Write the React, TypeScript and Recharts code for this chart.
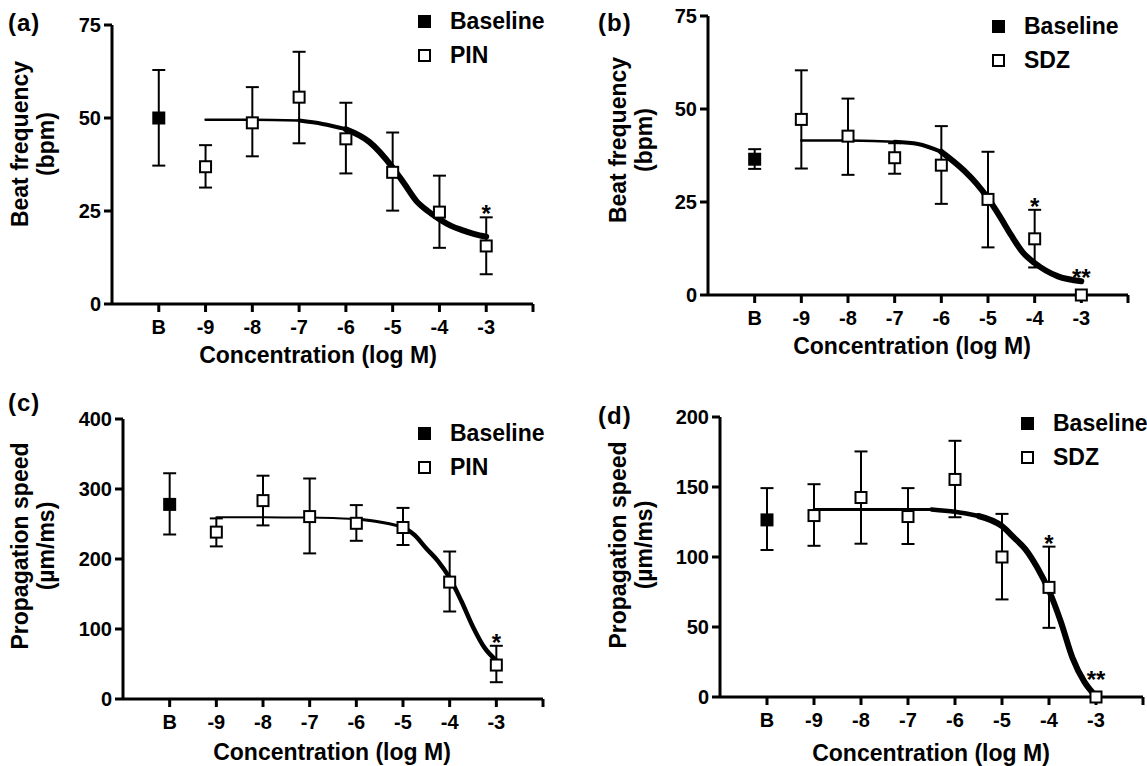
import {
  ComposedChart,
  Scatter,
  Line,
  XAxis,
  YAxis,
  ErrorBar,
  Legend,
  Label,
} from 'recharts';

// x axis is log M; the baseline sits in the "B" slot left of -9
const logConc = [-9, -8, -7, -6, -5, -4, -3];
const baselineSlot = -10;
const xTicks = [-10, -9, -8, -7, -6, -5, -4, -3, -2];
const xTickLabels = ['B', '-9', '-8', '-7', '-6', '-5', '-4', '-3', ''];

// (a) beat frequency, PIN  — baseline is [mean, low, high]
const beatBaselinePin = [50, 37.2, 62.9];
const beatPinMean = [36.9, 48.7, 55.6, 44.4, 35.4, 24.7, 15.6];
const beatPinLow = [31.3, 39.7, 43.2, 35.1, 25.1, 15.1, 8.0];
const beatPinHigh = [42.7, 58.3, 67.8, 54.1, 46.1, 34.5, 23.3];
const beatPinStars = ['', '', '', '', '', '', '*'];
const beatPinFitX = [-9, -8, -7, -6.5, -6, -5.5, -5, -4.75, -4.5, -4.25, -4, -3.75, -3.5, -3.25, -3];
const beatPinFitY = [49.5, 49.5, 49.3, 48.4, 47.0, 43.6, 36.7, 32.3, 27.8, 25.0, 22.8, 21.0, 19.8, 18.8, 18.1];

// (b) beat frequency, SDZ
const beatBaselineSdz = [36.5, 33.9, 39.2];
const beatSdzMean = [47.2, 42.7, 36.9, 34.9, 25.7, 15.1, 0];
const beatSdzLow = [34.0, 32.3, 32.6, 24.5, 12.8, 7.4, 0];
const beatSdzHigh = [60.4, 52.8, 40.8, 45.4, 38.5, 22.9, 0];
const beatSdzStars = ['', '', '', '', '', '*', '**'];
const beatSdzFitX = [-9, -8, -7, -6.5, -6, -5.5, -5.25, -5, -4.75, -4.5, -4.25, -4, -3.5, -3];
const beatSdzFitY = [41.5, 41.5, 41.2, 40.6, 38.5, 33.3, 30.0, 26.0, 21.2, 16.0, 11.4, 8.6, 5.0, 3.7];

// (c) propagation speed, PIN
const speedBaselinePin = [278, 235, 322.5];
const speedPinMean = [238.4, 283.4, 260.6, 251, 245, 167, 48.5];
const speedPinLow = [218, 248, 208, 226, 220, 125, 24];
const speedPinHigh = [258, 319, 315, 277, 273, 210.7, 76];
const speedPinStars = ['', '', '', '', '', '', '*'];
const speedPinFitX = [-9, -8, -7, -6.5, -6, -5.5, -5, -4.75, -4.5, -4.25, -4, -3.75, -3.5, -3.25, -3];
const speedPinFitY = [259.5, 259.5, 259.3, 258.5, 257, 253, 246, 234, 215, 197, 173, 140, 103, 73, 55];

// (d) propagation speed, SDZ
const speedBaselineSdz = [126.5, 105, 149.2];
const speedSdzMean = [129.6, 142.5, 128.9, 155.4, 100, 78.3, 0];
const speedSdzLow = [108, 109.5, 109.3, 128.4, 69.7, 49.4, 0];
const speedSdzHigh = [152, 175.4, 149.2, 183, 130.8, 107.4, 0];
const speedSdzStars = ['', '', '', '', '', '*', '**'];
const speedSdzFitX = [-9, -8, -7, -6.5, -6, -5.5, -5, -4.75, -4.5, -4.25, -4, -3.75, -3.5, -3.25, -3];
const speedSdzFitY = [134, 134, 134, 134, 132.3, 129.3, 122, 114, 105.5, 92.5, 76, 54, 28, 11, 0.5];

const FONT = '"Liberation Sans", Arial, Helvetica, sans-serif';
const TICK_FS = 20;
const TITLE_FS = 23;
const Y_AXIS_W = 60;
const X_AXIS_H = 40;

const panels = [
  {
    letter: '(a)', letterPos: { x: 8, y: 11 },
    box: { x: 0, y: 0, w: 573, h: 383 },
    plot: { l: 112, t: 25, r: 533, b: 304 },
    yMax: 75, yTicks: [0, 25, 50, 75],
    yTitle: ['Beat frequency', '(bpm)'], yTitlePos: { x: 28, y: 144 },
    xTitlePos: { x: 318, y: 363 },
    legendPos: { x: 418, y: 4 },
    drug: 'PIN',
    base: beatBaselinePin, mean: beatPinMean, low: beatPinLow, high: beatPinHigh, stars: beatPinStars,
    fitX: beatPinFitX, fitY: beatPinFitY,
    // curve drawn thin on the plateau, heavier where it falls
    segBreaks: [-7, -6], segWidths: [2.5, 4, 6],
  },
  {
    letter: '(b)', letterPos: { x: 598, y: 11 },
    box: { x: 573, y: 0, w: 574, h: 383 },
    plot: { l: 708, t: 16, r: 1128, b: 295 },
    yMax: 75, yTicks: [0, 25, 50, 75],
    yTitle: ['Beat frequency', '(bpm)'], yTitlePos: { x: 626, y: 140 },
    xTitlePos: { x: 912, y: 354 },
    legendPos: { x: 992, y: 9 },
    drug: 'SDZ',
    base: beatBaselineSdz, mean: beatSdzMean, low: beatSdzLow, high: beatSdzHigh, stars: beatSdzStars,
    fitX: beatSdzFitX, fitY: beatSdzFitY,
    segBreaks: [-7, -6], segWidths: [2.5, 4, 6],
  },
  {
    letter: '(c)', letterPos: { x: 8, y: 391 },
    box: { x: 0, y: 383, w: 573, h: 383 },
    plot: { l: 123, t: 419, r: 543, b: 699 },
    yMax: 400, yTicks: [0, 100, 200, 300, 400],
    yTitle: ['Propagation speed', '(µm/ms)'], yTitlePos: { x: 28, y: 546 },
    xTitlePos: { x: 332, y: 760 },
    legendPos: { x: 418, y: 416 },
    drug: 'PIN',
    base: speedBaselinePin, mean: speedPinMean, low: speedPinLow, high: speedPinHigh, stars: speedPinStars,
    fitX: speedPinFitX, fitY: speedPinFitY,
    segBreaks: [-6, -5], segWidths: [2, 3, 4.5],
  },
  {
    letter: '(d)', letterPos: { x: 598, y: 404 },
    box: { x: 573, y: 383, w: 574, h: 383 },
    plot: { l: 720, t: 417, r: 1143, b: 697 },
    yMax: 200, yTicks: [0, 50, 100, 150, 200],
    yTitle: ['Propagation speed', '(µm/ms)'], yTitlePos: { x: 626, y: 545 },
    xTitlePos: { x: 931, y: 761 },
    legendPos: { x: 1021, y: 406 },
    drug: 'SDZ',
    base: speedBaselineSdz, mean: speedSdzMean, low: speedSdzLow, high: speedSdzHigh, stars: speedSdzStars,
    fitX: speedSdzFitX, fitY: speedSdzFitY,
    segBreaks: [-6.5, -5.5], segWidths: [3, 4.5, 6],
  },
];

const FilledSquare = (props: any) => {
  const { cx, cy } = props;
  if (cx == null || cy == null) return null;
  return <rect x={cx - 6.5} y={cy - 6.5} width={13} height={13} fill="#000" />;
};

const OpenSquare = (props: any) => {
  const { cx, cy } = props;
  if (cx == null || cy == null) return null;
  return <rect x={cx - 5.5} y={cy - 5.5} width={11} height={11} fill="#fff" stroke="#000" strokeWidth={2} />;
};

const StarMark = (props: any) => {
  const { cx, cy, payload } = props;
  if (cx == null || cy == null) return null;
  return (
    <text x={cx} y={payload.flat ? cy - 9 : cy + 5} textAnchor="middle" fontSize={24} fontWeight="bold" fontFamily={FONT} fill="#000">
      {payload.star}
    </text>
  );
};

function LegendBox({ drug }: { drug: string }) {
  const row = (label: string, filled: boolean) => (
    <div style={{ display: 'flex', alignItems: 'center', height: 34 }}>
      <div
        style={{
          width: filled ? 13 : 9,
          height: filled ? 13 : 9,
          background: filled ? '#000' : '#fff',
          border: filled ? 'none' : '2px solid #000',
        }}
      />
      <span style={{ marginLeft: 19, fontSize: TITLE_FS, fontWeight: 'bold', fontFamily: FONT, lineHeight: 1 }}>
        {label}
      </span>
    </div>
  );
  return (
    <div>
      {row('Baseline', true)}
      {row(drug, false)}
    </div>
  );
}

function Panel({ p }: { p: (typeof panels)[number] }) {
  const { box, plot } = p;
  const margin = {
    left: plot.l - box.x - Y_AXIS_W,
    top: plot.t - box.y,
    right: box.x + box.w - plot.r,
    bottom: box.y + box.h - plot.b - X_AXIS_H,
  };
  const baseline = [{ x: baselineSlot, y: p.base[0], err: [p.base[0] - p.base[1], p.base[2] - p.base[0]] }];
  const drugPts = logConc.map((c, i) => ({
    x: c,
    y: p.mean[i],
    err: [p.mean[i] - p.low[i], p.high[i] - p.mean[i]],
  }));
  const starPts = logConc
    .map((c, i) => ({ x: c, y: p.high[i], star: p.stars[i], flat: p.high[i] === p.mean[i] }))
    .filter((d) => d.star);
  const fit = p.fitX.map((x, i) => ({ x, y: p.fitY[i] }));
  const bounds = [-Infinity, ...p.segBreaks, Infinity];
  const fitSegments = p.segWidths.map((w, i) => ({
    w,
    pts: fit.filter((d) => d.x >= bounds[i] && d.x <= bounds[i + 1]),
  }));

  const axisLine = { stroke: '#000', strokeWidth: 3 };
  const tickStyle = { fill: '#000', fontSize: TICK_FS, fontWeight: 'bold', fontFamily: FONT };

  return (
    <div style={{ position: 'absolute', left: box.x, top: box.y }}>
      <ComposedChart width={box.w} height={box.h} margin={margin}>
        <XAxis
          type="number"
          dataKey="x"
          domain={[-11, -2]}
          ticks={xTicks}
          interval={0}
          tickFormatter={(v: number) => xTickLabels[xTicks.indexOf(v)] ?? ''}
          axisLine={axisLine}
          tickLine={axisLine}
          tickSize={8}
          tickMargin={8}
          tick={tickStyle}
          height={X_AXIS_H}
        >
          <Label
            content={() => (
              <text
                x={p.xTitlePos.x - box.x}
                y={p.xTitlePos.y - box.y}
                textAnchor="middle"
                fontSize={TITLE_FS}
                fontWeight="bold"
                fontFamily={FONT}
                fill="#000"
              >
                Concentration (log M)
              </text>
            )}
          />
        </XAxis>
        <YAxis
          type="number"
          dataKey="y"
          domain={[0, p.yMax]}
          ticks={p.yTicks}
          interval={0}
          axisLine={axisLine}
          tickLine={axisLine}
          tickSize={8}
          tickMargin={3}
          tick={tickStyle}
          width={Y_AXIS_W}
        >
          <Label
            content={() => {
              const x = p.yTitlePos.x - box.x;
              const y = p.yTitlePos.y - box.y;
              return (
                <text
                  transform={`rotate(-90 ${x} ${y})`}
                  x={x}
                  y={y}
                  textAnchor="middle"
                  fontSize={TITLE_FS}
                  fontWeight="bold"
                  fontFamily={FONT}
                  fill="#000"
                >
                  <tspan x={x} dy={0}>{p.yTitle[0]}</tspan>
                  <tspan x={x} dy={26}>{p.yTitle[1]}</tspan>
                </text>
              );
            }}
          />
        </YAxis>
        <Scatter name="Baseline" data={baseline} shape={FilledSquare} isAnimationActive={false}>
          <ErrorBar dataKey="err" direction="y" width={6.5} stroke="#000" strokeWidth={2} />
        </Scatter>
        <Scatter name={p.drug} data={drugPts} shape={OpenSquare} isAnimationActive={false}>
          <ErrorBar dataKey="err" direction="y" width={6.5} stroke="#000" strokeWidth={2} />
        </Scatter>
        {fitSegments.map((s, i) => (
          <Line
            key={`fit-${i}`}
            data={s.pts}
            dataKey="y"
            type="monotone"
            stroke="#000"
            strokeWidth={s.w}
            strokeLinecap="round"
            dot={false}
            activeDot={false}
            legendType="none"
            isAnimationActive={false}
          />
        ))}
        <Scatter data={starPts} shape={StarMark} legendType="none" isAnimationActive={false} />
        <Legend
          layout="vertical"
          align="center"
          verticalAlign="middle"
          content={() => <LegendBox drug={p.drug} />}
          wrapperStyle={{ left: p.legendPos.x - box.x, top: p.legendPos.y - box.y, width: 'auto' }}
        />
      </ComposedChart>
    </div>
  );
}

export default function App() {
  return (
    <div
      style={{
        position: 'absolute',
        left: 0,
        top: 0,
        width: 1147,
        height: 766,
        background: '#fff',
        fontFamily: FONT,
        overflow: 'hidden',
      }}
    >
      {panels.map((p) => (
        <Panel key={p.letter} p={p} />
      ))}
      {panels.map((p) => (
        <div
          key={`${p.letter}-tag`}
          style={{
            position: 'absolute',
            left: p.letterPos.x,
            top: p.letterPos.y,
            fontSize: 24,
            fontWeight: 'bold',
            letterSpacing: 1,
            lineHeight: 1,
          }}
        >
          {p.letter}
        </div>
      ))}
    </div>
  );
}
